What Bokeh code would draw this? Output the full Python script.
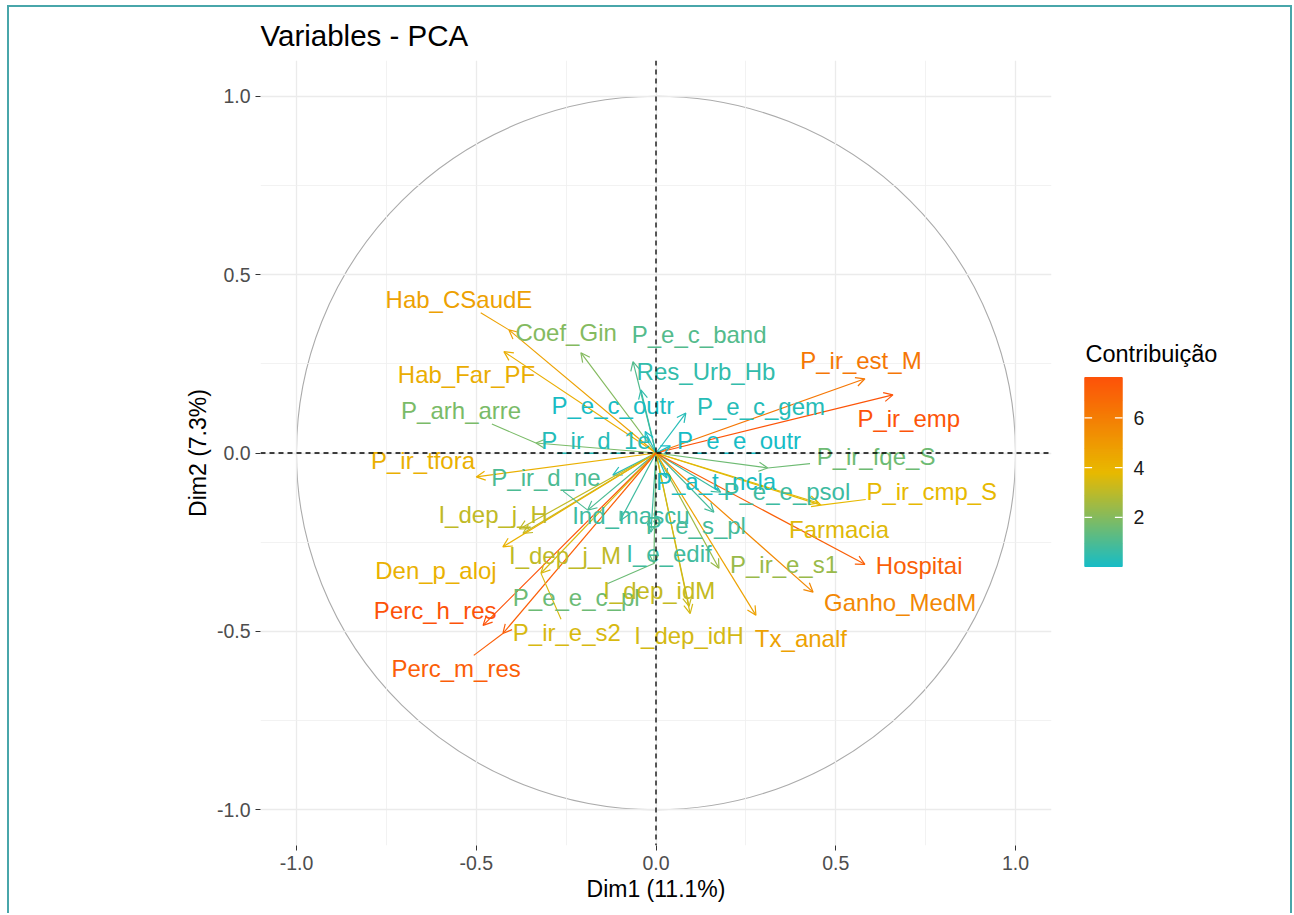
import numpy as np
from bokeh.plotting import figure
from bokeh.models import Range1d, FixedTicker, Span, Arrow, OpenHead, ColumnDataSource, PrintfTickFormatter
from bokeh.layouts import row
from bokeh.embed import file_html
from bokeh.resources import INLINE
from bokeh.core.properties import value, field

FONT = "Liberation Sans"

# ---------------- data ----------------
names = ["Hab_CSaudE", "Coef_Gin", "P_e_c_band", "Res_Urb_Hb", "P_ir_est_M", "Hab_Far_PF",
         "P_arh_arre", "P_e_c_outr", "P_e_c_gem", "P_ir_emp", "P_ir_d_1e", "P_e_e_outr",
         "P_ir_fqe_S", "P_ir_tfora", "P_ir_d_ne", "P_a_t_ncla", "P_e_e_psol", "P_ir_cmp_S",
         "I_dep_j_H", "Ind_mascu", "P_e_s_pl", "Farmacia", "I_dep_j_M", "I_e_edif",
         "Hospitai", "Den_p_aloj", "P_ir_e_s1", "P_e_e_c_pl", "I_dep_idM", "Ganho_MedM",
         "Perc_h_res", "P_ir_e_s2", "I_dep_idH", "Tx_analf", "Perc_m_res"]
dim1 = [-0.409, -0.209, -0.064, -0.042, 0.581, -0.423, -0.334, -0.030, 0.083, 0.659, -0.120, 0.040,
        0.311, -0.500, -0.190, 0.030, 0.180, 0.459, -0.380, -0.100, 0.161, 0.452, -0.370, -0.014,
        0.581, -0.426, 0.175, -0.006, 0.092, 0.437, -0.481, -0.320, 0.095, 0.278, -0.426]
dim2 = [0.345, 0.281, 0.256, 0.177, 0.208, 0.284, 0.028, 0.060, 0.112, 0.163, -0.062, 0.020,
        -0.042, -0.067, -0.160, -0.070, -0.110, -0.146, -0.213, -0.190, -0.166, -0.140, -0.225, -0.222,
        -0.312, -0.263, -0.323, -0.310, -0.430, -0.390, -0.483, -0.337, -0.450, -0.455, -0.506]
contrib = [4.70, 2.01, 1.14, 0.54, 6.25, 4.26, 1.84, 0.07, 0.32, 7.56, 0.30, 0.03,
           1.62, 4.17, 1.01, 0.10, 0.73, 3.80, 3.11, 0.76, 0.88, 3.67, 3.08, 0.81,
           7.13, 4.11, 2.40, 1.58, 3.17, 5.63, 7.62, 3.54, 3.47, 4.66, 7.18]
# repelled label positions
label_x = [-0.548, -0.250, 0.120, 0.139, 0.570, -0.527, -0.542, -0.120, 0.292, 0.703, -0.167, 0.231,
           0.612, -0.648, -0.306, 0.167, 0.364, 0.767, -0.453, -0.070, 0.111, 0.509, -0.253, 0.036,
           0.732, -0.612, 0.356, -0.222, 0.009, 0.679, -0.614, -0.248, 0.092, 0.403, -0.556]
label_y = [0.430, 0.337, 0.331, 0.228, 0.258, 0.219, 0.118, 0.132, 0.129, 0.096, 0.034, 0.034,
           -0.011, -0.020, -0.070, -0.081, -0.107, -0.107, -0.171, -0.174, -0.202, -0.213, -0.287, -0.281,
           -0.315, -0.329, -0.312, -0.404, -0.385, -0.419, -0.441, -0.503, -0.511, -0.520, -0.604]
with_segment = ["Hab_CSaudE", "P_arh_arre", "P_ir_fqe_S", "P_ir_cmp_S", "Perc_m_res",
                "P_ir_e_s2", "P_ir_d_ne", "P_e_e_c_pl"]
xticks = [-1.0, -0.5, 0.0, 0.5, 1.0]
xminor = [-0.75, -0.25, 0.25, 0.75]
legend_ticks = [2, 4, 6]
gradient_cols = ["#16BCC6", "#E8B900", "#FD5208"]

# ---------------- colour ramp ----------------
RGBS = [np.array([int(h[i:i + 2], 16) for i in (1, 3, 5)], dtype=float) for h in gradient_cols]
cmin, cmax = min(contrib), max(contrib)

def ramp(v):
    t = (v - cmin) / (cmax - cmin)
    t = min(max(t, 0.0), 1.0)
    if t <= 0.5:
        A, B, u = RGBS[0], RGBS[1], t / 0.5
    else:
        A, B, u = RGBS[1], RGBS[2], (t - 0.5) / 0.5
    c = A + (B - A) * u
    return "#%02x%02x%02x" % tuple(int(round(x)) for x in c)

colors = [ramp(c) for c in contrib]

# ---------------- main figure ----------------
FW, FH = 791, 785
BL, BR, BT, BB = 251, 10, 53, 68
XR, YR = (-1.1, 1.1), (-1.1, 1.1)
p = figure(frame_width=FW, frame_height=FH, x_range=Range1d(*XR), y_range=Range1d(*YR),
           min_border_left=BL, min_border_right=BR, min_border_top=BT, min_border_bottom=BB,
           output_backend="svg", toolbar_location=None, title="Variables - PCA")
p.background_fill_color = "white"
p.border_fill_color = "white"
p.outline_line_color = None

p.title.text_font = FONT
p.title.text_font_size = "29.5px"
p.title.text_font_style = "normal"
p.title.text_color = "black"
p.title.align = "left"
p.title.standoff = 18

for ax in (p.xaxis[0], p.yaxis[0]):
    ax.ticker = FixedTicker(ticks=xticks, minor_ticks=xminor)
    ax.formatter = PrintfTickFormatter(format="%.1f")
    ax.axis_line_color = None
    ax.major_tick_line_color = "#333333"
    ax.major_tick_in = 0
    ax.major_tick_out = 5
    ax.minor_tick_line_color = None
    ax.major_label_text_font = FONT
    ax.major_label_text_font_size = "19.5px"
    ax.major_label_text_color = "#4D4D4D"
    ax.major_label_standoff = 5
    ax.axis_label_text_font = FONT
    ax.axis_label_text_font_size = "23px"
    ax.axis_label_text_font_style = "normal"
    ax.axis_label_text_color = "black"
    ax.axis_label_standoff = 3
p.xaxis.axis_label = "Dim1 (11.1%)"
p.yaxis.axis_label = "Dim2 (7.3%)"

p.grid.grid_line_color = "#EBEBEB"
p.grid.grid_line_width = 1.3
p.grid.minor_grid_line_color = "#EFEFEF"
p.grid.minor_grid_line_width = 0.8

# correlation circle
p.ellipse(x=0, y=0, width=2, height=2, fill_color=None, line_color="#ABABAB", line_width=1.1,
          level="underlay")

src = ColumnDataSource(dict(x0=[0.0] * len(names), y0=[0.0] * len(names), x1=dim1, y1=dim2,
                            name=names, lx=label_x, ly=label_y, color=colors, contrib=contrib))

arrow = Arrow(end=OpenHead(size=9, line_color=field("color"), line_width=1.2),
              x_start="x0", y_start="y0", x_end="x1", y_end="y1",
              line_color=field("color"), line_width=1.2, source=src, level="underlay")
p.add_layout(arrow)

# repel segments from label box edge to arrow tip
LFS = 24.0
xs_per_px = (XR[1] - XR[0]) / FW
ys_per_px = (YR[1] - YR[0]) / FH
sx0, sy0, sx1, sy1, scol = [], [], [], [], []
for i, nm in enumerate(names):
    if nm not in with_segment:
        continue
    hw = 0.5 * len(nm) * 0.55 * LFS * xs_per_px
    hh = 0.55 * LFS * ys_per_px
    dx = dim1[i] - label_x[i]
    dy = dim2[i] - label_y[i]
    s = max(abs(dx) / hw, abs(dy) / hh)
    if s <= 1:
        continue
    sx0.append(label_x[i] + dx / s)
    sy0.append(label_y[i] + dy / s)
    sx1.append(dim1[i])
    sy1.append(dim2[i])
    scol.append(colors[i])
p.segment(x0=sx0, y0=sy0, x1=sx1, y1=sy1, line_color=scol, line_width=1.1)

p.text(x="lx", y="ly", text="name", source=src, text_color="color",
       text_font=value(FONT), text_font_size=value("24px"),
       text_align="center", text_baseline="middle")

p.add_layout(Span(location=0, dimension="width", line_color="black", line_width=1.3,
                  line_dash="5 4", level="overlay"))
p.add_layout(Span(location=0, dimension="height", line_color="black", line_width=1.3,
                  line_dash="5 4", level="overlay"))

# ---------------- legend (colour bar), in page pixel coordinates ----------------
ORX, ORY = 9, 7                      # page position of the row content
LW = 229
q_left = ORX + BL + FW + BR
q = figure(frame_width=LW, frame_height=FH,
           x_range=Range1d(q_left, q_left + LW),
           y_range=Range1d(ORY + BT + FH, ORY + BT),
           min_border_left=0, min_border_right=0, min_border_top=BT, min_border_bottom=BB,
           output_backend="svg", toolbar_location=None,
           x_axis_type=None, y_axis_type=None)
q.grid.visible = False
q.outline_line_color = None
q.background_fill_color = "white"
q.border_fill_color = "white"

bar_l, bar_r, bar_top, bar_bot = 1084, 1122, 377, 566
nstep = 190
vals = np.linspace(cmin, cmax, nstep + 1)
frac = (vals - cmin) / (cmax - cmin)
ys = bar_bot - frac * (bar_bot - bar_top)
q.quad(left=bar_l, right=bar_r, bottom=ys[:-1] + 0.5, top=ys[1:] - 0.5,
       fill_color=[ramp(v) for v in (vals[:-1] + vals[1:]) / 2], line_color=None)
ty = [bar_bot - (t - cmin) / (cmax - cmin) * (bar_bot - bar_top) for t in legend_ticks]
tl = (bar_r - bar_l) / 5
q.segment(x0=[bar_l] * 3, x1=[bar_l + tl] * 3, y0=ty, y1=ty, line_color="white", line_width=1.3)
q.segment(x0=[bar_r - tl] * 3, x1=[bar_r] * 3, y0=ty, y1=ty, line_color="white", line_width=1.3)
q.text(x=[bar_r + 11] * 3, y=ty, text=[str(t) for t in legend_ticks], text_color="#1A1A1A",
       text_font=value(FONT), text_font_size=value("19.5px"), text_align="left",
       text_baseline="middle")
q.text(x=[bar_l + 1], y=[bar_top - 24], text=["Contribuição"], text_color="black",
       text_font=value(FONT), text_font_size=value("23.5px"), text_align="left",
       text_baseline="middle")

layout = row(p, q)
layout.styles = {"margin-left": "7px", "margin-top": "5px",
                 "border-top": "2px solid #48a6aa", "border-left": "2px solid #48a6aa",
                 "border-right": "2px solid #48a6aa"}

open("out.html", "w").write(file_html(layout, INLINE))
